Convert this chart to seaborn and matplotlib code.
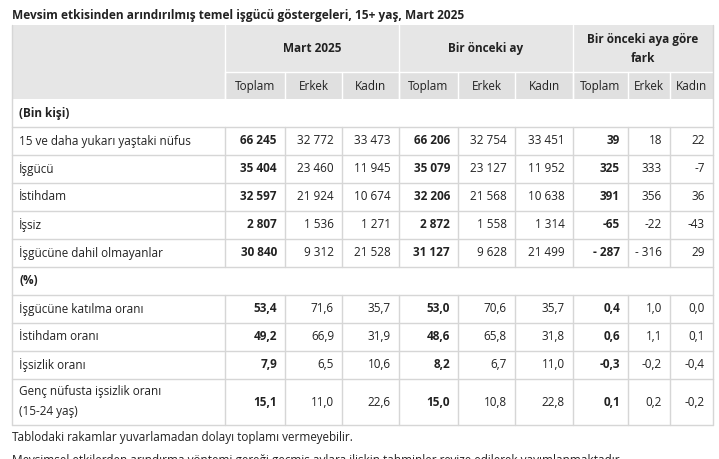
import matplotlib.pyplot as plt
import seaborn as sns
from matplotlib.patches import Rectangle

sns.set_theme(style="white", font="Open Sans")

title = "Mevsim etkisinden arındırılmış temel işgücü göstergeleri, 15+ yaş, Mart 2025"
groups = ["Mart 2025", "Bir önceki ay", "Bir önceki aya göre\nfark"]
subcols = ["Toplam", "Erkek", "Kadın"]

rows = [
    ("(Bin kişi)", None),
    ("15 ve daha yukarı yaştaki nüfus", ["66 245", "32 772", "33 473", "66 206", "32 754", "33 451", "39", "18", "22"]),
    ("İşgücü", ["35 404", "23 460", "11 945", "35 079", "23 127", "11 952", "325", "333", "-7"]),
    ("İstihdam", ["32 597", "21 924", "10 674", "32 206", "21 568", "10 638", "391", "356", "36"]),
    ("İşsiz", ["2 807", "1 536", "1 271", "2 872", "1 558", "1 314", "-65", "-22", "-43"]),
    ("İşgücüne dahil olmayanlar", ["30 840", "9 312", "21 528", "31 127", "9 628", "21 499", "- 287", "- 316", "29"]),
    ("(%)", None),
    ("İşgücüne katılma oranı", ["53,4", "71,6", "35,7", "53,0", "70,6", "35,7", "0,4", "1,0", "0,0"]),
    ("İstihdam oranı", ["49,2", "66,9", "31,9", "48,6", "65,8", "31,8", "0,6", "1,1", "0,1"]),
    ("İşsizlik oranı", ["7,9", "6,5", "10,6", "8,2", "6,7", "11,0", "-0,3", "-0,2", "-0,4"]),
    ("Genç nüfusta işsizlik oranı\n(15-24 yaş)", ["15,1", "11,0", "22,6", "15,0", "10,8", "22,8", "0,1", "0,2", "-0,2"]),
]
notes = [
    "Tablodaki rakamlar yuvarlamadan dolayı toplamı vermeyebilir.",
    "Mevsimsel etkilerden arındırma yöntemi gereği geçmiş aylara ilişkin tahminler revize edilerek yayımlanmaktadır.",
]

# layout in pixels
col_x = [12, 225, 285, 342, 399, 458, 515, 573, 628, 670, 713]
row_h = [28, 28, 28, 28, 28, 28, 28, 28, 28, 28, 46]
head_top, group_bot, head_bot = 25, 72, 99
line_c = "#d6d6d6"
head_c = "#e6e6e6"
text_c = "#222222"
fs = 8.5

fig = plt.figure(figsize=(7.19, 4.59), dpi=100)
ax = fig.add_axes([0, 0, 1, 1])
ax.set_xlim(0, 719)
ax.set_ylim(459, 0)
ax.axis("off")

ax.text(12, 15, title, fontsize=8.6, fontweight="bold", color=text_c, va="center")

ax.add_patch(Rectangle((col_x[0], head_top), col_x[-1] - col_x[0], head_bot - head_top, color=head_c, lw=0))
ax.add_patch(Rectangle((col_x[1], group_bot), col_x[-1] - col_x[1], head_bot - group_bot, color="#e0e0e0", lw=0))

# group headers
for g, name in enumerate(groups):
    x0, x1 = col_x[1 + 3 * g], col_x[4 + 3 * g]
    ax.text((x0 + x1) / 2, (head_top + group_bot) / 2, name, fontsize=fs, fontweight="bold",
            ha="center", va="center", color=text_c, linespacing=1.6)
    for k, s in enumerate(subcols):
        a, b = col_x[1 + 3 * g + k], col_x[2 + 3 * g + k]
        ax.text((a + b) / 2, (group_bot + head_bot) / 2 + 1, s, fontsize=fs, ha="center", va="center", color=text_c)

# header lines
ax.plot([col_x[1], col_x[-1]], [group_bot, group_bot], color="white", lw=1)
for x in col_x[1:-1:3]:
    ax.plot([x, x], [head_top, head_bot], color="white", lw=1)
for x in col_x[1:-1]:
    ax.plot([x, x], [group_bot, head_bot], color="white", lw=1)
ax.plot([col_x[0], col_x[0]], [head_top, head_bot], color=line_c, lw=1)
ax.plot([col_x[-1], col_x[-1]], [head_top, head_bot], color=line_c, lw=1)

# body
y = head_bot
for (label, vals), h in zip(rows, row_h):
    y0, y1 = y, y + h
    yc = (y0 + y1) / 2
    is_sec = vals is None
    ax.text(col_x[0] + 7, yc, label, fontsize=fs, va="center", color=text_c,
            fontweight="bold" if is_sec else "normal", linespacing=1.7)
    xs = [col_x[0], col_x[-1]] if is_sec else col_x
    for x in xs:
        ax.plot([x, x], [y0, y1], color=line_c, lw=1)
    if not is_sec:
        for i, v in enumerate(vals):
            ax.text(col_x[i + 2] - 8, yc, v, fontsize=fs, ha="right", va="center", color=text_c,
                    fontweight="bold" if i % 3 == 0 else "normal")
    ax.plot([col_x[0], col_x[-1]], [y1, y1], color=line_c, lw=1)
    y = y1

ax.text(col_x[0], 437, notes[0], fontsize=fs, va="center", color=text_c)
ax.text(col_x[0], 454, notes[1], fontsize=fs, va="top", color=text_c)

fig.savefig("out.png", dpi=100)
